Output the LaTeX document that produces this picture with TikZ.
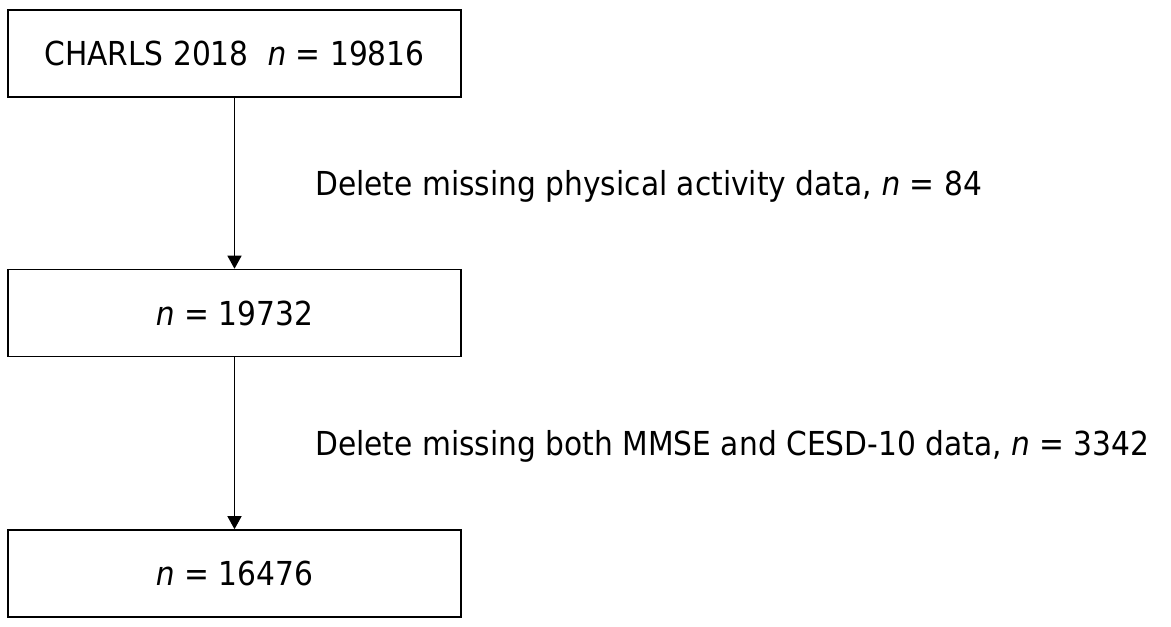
\documentclass[tikz,border=0pt]{standalone}
\usepackage{fontspec}
\setmainfont{DejaVu Sans}[FakeStretch=0.9]
\usetikzlibrary{arrows.meta}
\begin{document}
\begin{tikzpicture}[x=1pt,y=-1pt,
  box/.style={draw,line width=1.6pt,minimum width=453pt,minimum height=87pt,inner sep=0pt,
    font=\fontsize{33}{38}\selectfont,text height=24pt,text depth=0pt},
  lbl/.style={anchor=base west,inner sep=0pt,font=\fontsize{33}{38}\selectfont},
  arr/.style={line width=1.4pt,-{Triangle[width=14pt,length=13pt]}}]
\useasboundingbox (0,0) rectangle (1171,627);
\node[box] (b1) at (234.5,53.5) {CHARLS 2018\ \ \textit{n} = 19816};
\node[box] (b2) at (234.5,313) {\textit{n} = 19732};
\node[box] (b3) at (234.5,573.5) {\textit{n} = 16476};
\draw[arr] (b1) -- (b2);
\draw[arr] (b2) -- (b3);
\node[lbl] (l1) at (315,195) {Delete missing physical activity data, \textit{n} = 84};
\node[lbl] (l2) at (315,455) {Delete missing both MMSE and CESD-10 data, \textit{n} = 3342};
\end{tikzpicture}
\end{document}
